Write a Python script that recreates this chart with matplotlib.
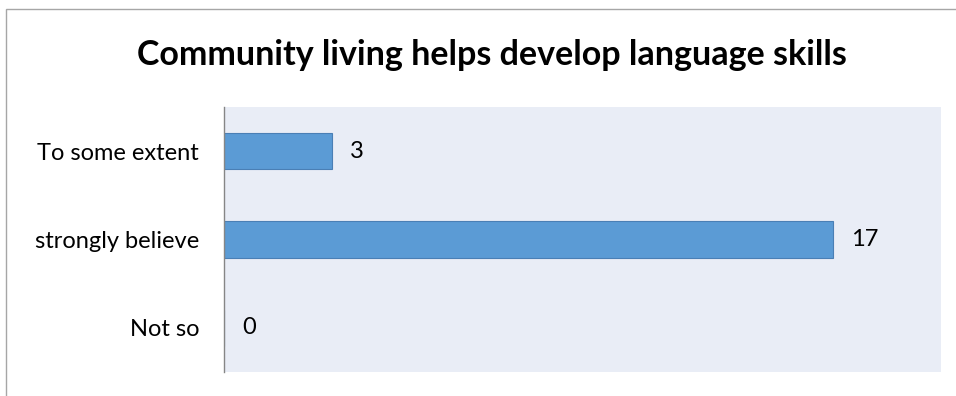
import matplotlib
matplotlib.use("Agg")
import matplotlib.pyplot as plt
from matplotlib.patches import Rectangle

categories = ["Not so", "strongly believe", "To some extent"]
values = [0, 17, 3]
title = "Community living helps develop language skills"

W, H = 956, 396
fig = plt.figure(figsize=(W / 100, H / 100), dpi=100)
fig.patch.set_facecolor("white")

# outer chart border (cropped at right and bottom)
fig.add_artist(Rectangle((5.5 / W, -0.1), 1.2, (H - 8.5) / H + 0.1,
                         transform=fig.transFigure, fill=False,
                         edgecolor="#A6A6A6", linewidth=1.0))

left, right, top, bottom = 224, 941, 107, 372
ax = fig.add_axes([left / W, 1 - bottom / H, (right - left) / W, (bottom - top) / H])
ax.set_facecolor("#E9EDF6")

y = list(range(len(categories)))
bars = ax.barh(y, values, height=0.41, color="#5B9BD5", edgecolor="#4A7FB5", linewidth=0.8)
ax.set_xlim(0, 20)
ax.set_ylim(-0.5, len(categories) - 0.5)
ax.set_yticks(y)
ax.set_yticklabels(categories, fontsize=17, family="Lato")
ax.tick_params(axis="y", length=0, pad=18)
ax.set_xticks([])
for s in ["top", "right", "bottom"]:
    ax.spines[s].set_visible(False)
ax.spines["left"].set_color("#868686")
ax.spines["left"].set_linewidth(1.0)

for yi, v in zip(y, values):
    ax.annotate(str(v), (v, yi), xytext=(13, 0), textcoords="offset points",
                va="center", ha="left", fontsize=17, family="Lato")

fig.text(492 / W, 1 - 55 / H, title, ha="center", va="center",
         fontsize=24.5, fontweight="bold", family="Lato")

fig.savefig("out.png", dpi=100)
